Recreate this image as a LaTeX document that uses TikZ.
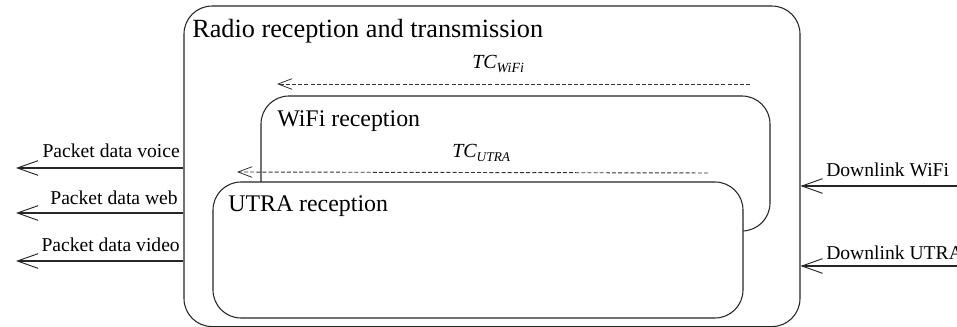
\documentclass[tikz,border=0pt]{standalone}
\usepackage{fontspec}
\setmainfont{Liberation Serif}
\usetikzlibrary{arrows.meta}

\begin{document}
\begin{tikzpicture}[x=0.75pt, y=-0.75pt,
  box/.style={draw=black!85, line width=0.8pt, rounded corners=21pt, inner sep=0pt},
  boxtitle/.style={anchor=base west, inner sep=0pt},
  lbl/.style={inner sep=0pt, font=\fontsize{14.7pt}{17pt}\selectfont},
  flow/.style={draw=black!85, line width=0.8pt,
    -{Straight Barb[length=15.5pt, width=11pt, line width=0.7pt]}},
  tcflow/.style={draw=black!80, line width=0.7pt, dash pattern=on 3pt off 1.6pt,
    -{Straight Barb[length=10.5pt, width=8pt, line width=0.6pt]}},
  tclbl/.style={anchor=base west, inner sep=0pt, font=\fontsize{15pt}{18pt}\selectfont\itshape}
]
\useasboundingbox (0,0) rectangle (957,327);

% Outer block
\node[box, fill=white, minimum width=462pt, minimum height=240.4pt] (radio) at (492,166.3) {};
\node[boxtitle, font=\fontsize{19.7pt}{23pt}\selectfont] (radiotitle) at (192,38) {Radio reception and transmission};

% WiFi reception block
\node[box, fill=white, minimum width=381.75pt, minimum height=101.25pt] (wifi) at (515.5,163.5) {};
\node[boxtitle, font=\fontsize{17.9pt}{21pt}\selectfont] (wifititle) at (277,127) {WiFi reception};

% TC arrows
\coordinate (wifiTCstart) at (750,84);
\coordinate (wifiTCend) at (277,84);
\draw[tcflow] (wifiTCstart) -- (wifiTCend);
\node[tclbl] (wifiTC) at (472,69) {TC\raisebox{-3pt}{\fontsize{10.5pt}{12pt}\selectfont WiFi}};

\coordinate (utraTCstart) at (708,173);
\coordinate (utraTCend) at (237,172);
\draw[tcflow] (utraTCstart) -- (utraTCend);
\node[tclbl] (utraTC) at (452,158) {TC\raisebox{-3pt}{\fontsize{10pt}{12pt}\selectfont UTRA}};

% UTRA reception block
\node[box, fill=white, minimum width=397.5pt, minimum height=102pt] (utra) at (478,250) {};
\node[boxtitle, font=\fontsize{17.9pt}{21pt}\selectfont] (utratitle) at (228,212) {UTRA reception};

% Outgoing packet data
\coordinate (voiceEnd) at (16,168);
\coordinate (webEnd) at (16,213);
\coordinate (videoEnd) at (16,261);
\draw[flow] (radio.west |- voiceEnd) -- (voiceEnd);
\draw[flow] (radio.west |- webEnd) -- (webEnd);
\draw[flow] (radio.west |- videoEnd) -- (videoEnd);
\node[lbl, anchor=base east] (voice) at (180,158) {Packet data voice};
\node[lbl, anchor=base east] (web) at (178,205) {Packet data web};
\node[lbl, anchor=base east] (video) at (180,252) {Packet data video};

% Incoming downlinks
\coordinate (dlWifiStart) at (960,186);
\coordinate (dlUtraStart) at (960,266);
\draw[flow] (dlWifiStart) -- (radio.east |- dlWifiStart);
\draw[flow] (dlUtraStart) -- (radio.east |- dlUtraStart);
\node[lbl, anchor=base west] (dlwifi) at (826,177) {Downlink WiFi};
\node[lbl, anchor=base west] (dlutra) at (826,260) {Downlink UTRA};
\end{tikzpicture}
\end{document}
